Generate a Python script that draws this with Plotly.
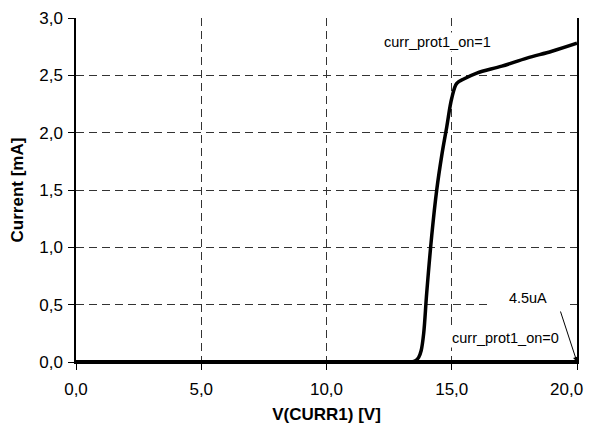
import plotly.graph_objects as go

# Data
v_on = [0.0, 5.0, 10.0, 13.4, 13.55, 13.68, 13.78, 13.88, 14.0, 14.2, 14.4, 14.6, 14.8, 15.0, 15.2, 15.5, 16.0, 17.0, 18.0, 19.0, 20.0]
i_on = [0.0, 0.0, 0.0, 0.0, 0.01, 0.04, 0.1, 0.25, 0.6, 1.1, 1.5, 1.8, 2.05, 2.3, 2.43, 2.47, 2.52, 2.58, 2.65, 2.71, 2.78]
v_off = [0.0, 5.0, 10.0, 15.0, 20.0]
i_off = [0.0045, 0.0045, 0.0045, 0.0045, 0.0045]

x_ticks = [0, 5, 10, 15, 20]
x_tick_labels = ["0,0", "5,0", "10,0", "15,0", "20,0"]
y_ticks = [0, 0.5, 1.0, 1.5, 2.0, 2.5, 3.0]

fig = go.Figure()
fig.add_trace(go.Scatter(x=v_off, y=i_off, mode="lines",
                         line=dict(color="black", width=3), showlegend=False))
fig.add_trace(go.Scatter(x=v_on, y=i_on, mode="lines", line_shape="spline",
                         line=dict(color="black", width=3.5), showlegend=False))

font = "Liberation Sans, Arial, sans-serif"
grid = dict(showgrid=True, gridcolor="#333333", gridwidth=1, griddash="8px,5px")

# The last x tick label is drawn as an annotation so it is not clipped at the window edge.
shown_x_labels = x_tick_labels[:-1] + [""]

# The page body has an 8px margin; the figure fits inside the window without overflow.
fig.update_layout(
    width=579, height=416,
    margin=dict(l=68, r=10, t=10, b=62, autoexpand=False),
    paper_bgcolor="white", plot_bgcolor="white",
    separators=",.",
    font=dict(family=font, size=17, color="black"),
    xaxis=dict(range=[0, 20], tickvals=x_ticks, ticktext=shown_x_labels,
               showline=True, linecolor="black", linewidth=1.5, mirror=False,
               ticks="outside", ticklen=6, tickcolor="black",
               ticklabelstandoff=5, ticklabeloverflow="allow",
               zeroline=False, automargin=False,
               title=dict(text="<b>V(CURR1) [V]</b>", font=dict(size=17), standoff=12),
               **grid),
    yaxis=dict(range=[0, 3], tickvals=y_ticks, tickformat=".1f",
               showline=True, linecolor="black", linewidth=1.5, mirror=True,
               ticks="outside", ticklen=6, tickcolor="black",
               ticklabelstandoff=2, ticklabeloverflow="allow",
               zeroline=False, automargin=False,
               title=dict(text="<b>Current [mA]</b>", font=dict(size=17), standoff=12),
               **grid),
    annotations=[
        dict(x=x_ticks[-1], y=0, xref="x", yref="y", text=x_tick_labels[-1],
             showarrow=False, font=dict(size=17), xanchor="right", yanchor="middle",
             xshift=8, yshift=-27),
        dict(x=14.45, y=2.79, xref="x", yref="y", text="curr_prot1_on=1",
             showarrow=False, font=dict(size=14.5), bgcolor="white"),
        dict(x=17.13, y=0.21, xref="x", yref="y", text="curr_prot1_on=0",
             showarrow=False, font=dict(size=14.5), bgcolor="white"),
        dict(x=18.04, y=0.56, xref="x", yref="y", text="4.5uA",
             showarrow=False, font=dict(size=14.5), bgcolor="white", width=76),
        dict(x=20, y=0, xref="x", yref="y", ax=-17, ay=-52, axref="pixel", ayref="pixel",
             text="", showarrow=True, arrowhead=2, arrowsize=1, arrowwidth=1,
             arrowcolor="black"),
    ],
)

fig.write_html("out.html")
